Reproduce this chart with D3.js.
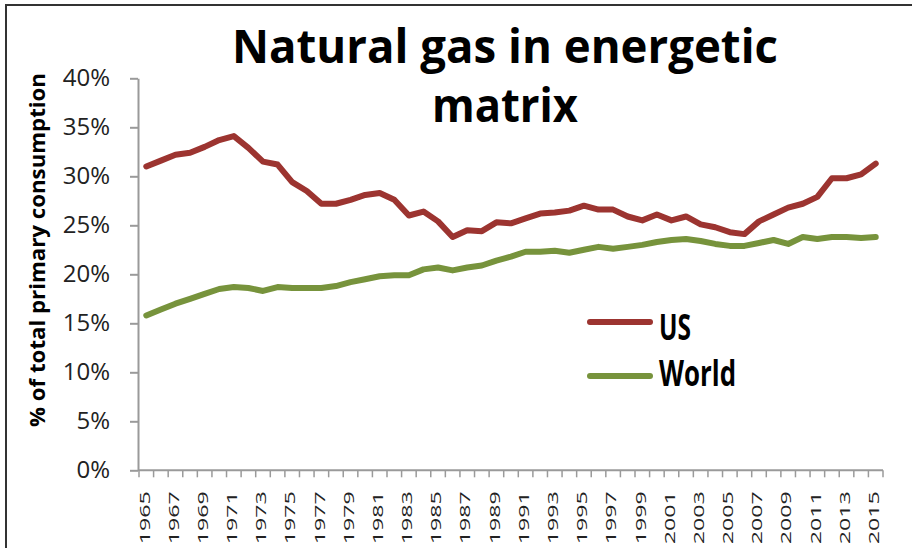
<!DOCTYPE html>
<html>
<head>
<meta charset="utf-8">
<script src="https://cdn.jsdelivr.net/npm/d3@7"></script>
<style>
  body { margin: 0; background: #fff; }
  svg { display: block; }
</style>
</head>
<body>
<div id="chart"></div>
<script>
const width = 912, height = 548;
const margin = {top: 78, right: 29, bottom: 78, left: 139};

// share of natural gas in total primary energy consumption (%)
const years = d3.range(1965, 2016);
const us = [31.0, 31.6, 32.2, 32.4, 33.0, 33.7, 34.1, 32.9, 31.5, 31.2,
            29.4, 28.5, 27.2, 27.2, 27.6, 28.1, 28.3, 27.6, 26.0, 26.4,
            25.4, 23.8, 24.5, 24.4, 25.3, 25.2, 25.7, 26.2, 26.3, 26.5,
            27.0, 26.6, 26.6, 25.9, 25.5, 26.1, 25.5, 25.9, 25.1, 24.8,
            24.3, 24.1, 25.4, 26.1, 26.8, 27.2, 27.9, 29.8, 29.8, 30.2, 31.3];
const world = [15.8, 16.4, 17.0, 17.5, 18.0, 18.5, 18.7, 18.6, 18.3, 18.7,
               18.6, 18.6, 18.6, 18.8, 19.2, 19.5, 19.8, 19.9, 19.9, 20.5,
               20.7, 20.4, 20.7, 20.9, 21.4, 21.8, 22.3, 22.3, 22.4, 22.2,
               22.5, 22.8, 22.6, 22.8, 23.0, 23.3, 23.5, 23.6, 23.4, 23.1,
               22.9, 22.9, 23.2, 23.5, 23.1, 23.8, 23.6, 23.8, 23.8, 23.7, 23.8];
const yTicks = [0, 5, 10, 15, 20, 25, 30, 35, 40];
const seriesNames = ["US", "World"];
const seriesColors = ["#9c3430", "#77933c"];

let svg = d3.select("#chart")
    .append("svg")
    .attr("width", width)
    .attr("height", height);

// frame (only top and left edges fall inside the picture)
svg.append("rect")
    .attr("x", 6).attr("y", 5)
    .attr("width", 1000).attr("height", 1000)
    .attr("fill", "none")
    .attr("stroke", "#333")
    .attr("stroke-width", 2);

let x = d3.scaleBand()
    .domain(years)
    .range([margin.left, width - margin.right])
    .padding(0);

let y = d3.scaleLinear()
    .domain([0, 40])
    .range([height - margin.bottom + 0.3, margin.top + 0.3]);

// y axis
let yAxis = svg.append("g")
    .attr("transform", `translate(${margin.left - 1},0)`)
    .call(d3.axisLeft(y).tickValues(yTicks).tickSize(8).tickSizeOuter(0)
        .tickPadding(20).tickFormat(d => d + "%"));
yAxis.select(".domain").attr("stroke", "#9a9a9a").attr("stroke-width", 2);
yAxis.selectAll(".tick line").attr("stroke", "#9a9a9a").attr("stroke-width", 2);
yAxis.selectAll(".tick text")
    .style("font-family", "'Open Sans'")
    .style("font-size", "24px")
    .attr("fill", "#222");

// x axis: ticks between categories, labels every other year
let xAxis = svg.append("g")
    .attr("transform", `translate(0,${y(0)})`);
xAxis.append("line")
    .attr("x1", x.range()[0] - 1).attr("x2", x.range()[1])
    .attr("stroke", "#9a9a9a").attr("stroke-width", 2);
xAxis.selectAll("line.tk")
    .data(years.map(d => x(d)).concat([x.range()[1]]))
    .enter().append("line")
    .attr("class", "tk")
    .attr("x1", d => d).attr("x2", d => d)
    .attr("y1", 0).attr("y2", 7)
    .attr("stroke", "#9a9a9a").attr("stroke-width", 1.5);
xAxis.selectAll("text")
    .data(years.filter(d => d % 2 == 1))
    .enter().append("text")
    .attr("transform", d => `translate(${x(d) + x.bandwidth() / 2 - 2},21) rotate(-90)`)
    .attr("dy", "0.35em")
    .style("text-anchor", "end")
    .style("font-family", "'Open Sans'")
    .style("font-size", "15px")
    .attr("textLength", 53)
    .attr("lengthAdjust", "spacingAndGlyphs")
    .attr("fill", "#222")
    .text(d => d);

// lines
let line = d3.line()
    .x((d, i) => x(years[i]) + x.bandwidth() / 2)
    .y(d => y(d));

[us, world].forEach(function(series, k) {
    svg.append("path")
        .datum(series)
        .attr("d", line)
        .attr("fill", "none")
        .attr("stroke", seriesColors[k])
        .attr("stroke-width", 6)
        .attr("stroke-linejoin", "round")
        .attr("stroke-linecap", "round");
});

// legend
let legendY = [322, 376];
let legendBase = [340, 386];
let legendLen = [32, 77];
seriesNames.forEach(function(name, k) {
    svg.append("line")
        .attr("x1", 590).attr("x2", 650)
        .attr("y1", legendY[k]).attr("y2", legendY[k])
        .attr("stroke", seriesColors[k])
        .attr("stroke-width", 6)
        .attr("stroke-linecap", "round");
    svg.append("text")
        .attr("x", 659).attr("y", legendBase[k])
        .style("font-family", "'Open Sans'")
        .style("font-weight", "bold")
        .style("font-size", "36px")
        .attr("textLength", legendLen[k])
        .attr("lengthAdjust", "spacingAndGlyphs")
        .attr("fill", "#000")
        .text(name);
});

// title
svg.append("text")
    .attr("x", 232).attr("y", 63)
    .style("font-family", "'Open Sans'")
    .style("font-weight", "bold")
    .style("font-size", "46px")
    .attr("textLength", 546)
    .attr("lengthAdjust", "spacingAndGlyphs")
    .text("Natural gas in energetic");
svg.append("text")
    .attr("x", 432).attr("y", 122)
    .style("font-family", "'Open Sans'")
    .style("font-weight", "bold")
    .style("font-size", "46px")
    .attr("textLength", 146)
    .attr("lengthAdjust", "spacingAndGlyphs")
    .text("matrix");

// y axis title
svg.append("text")
    .attr("transform", `translate(45,${(73 + 427) / 2}) rotate(-90)`)
    .style("text-anchor", "middle")
    .style("font-family", "'Open Sans'")
    .style("font-weight", "bold")
    .style("font-size", "21px")
    .attr("textLength", 354)
    .attr("lengthAdjust", "spacingAndGlyphs")
    .text("% of total primary consumption");
</script>
</body>
</html>
